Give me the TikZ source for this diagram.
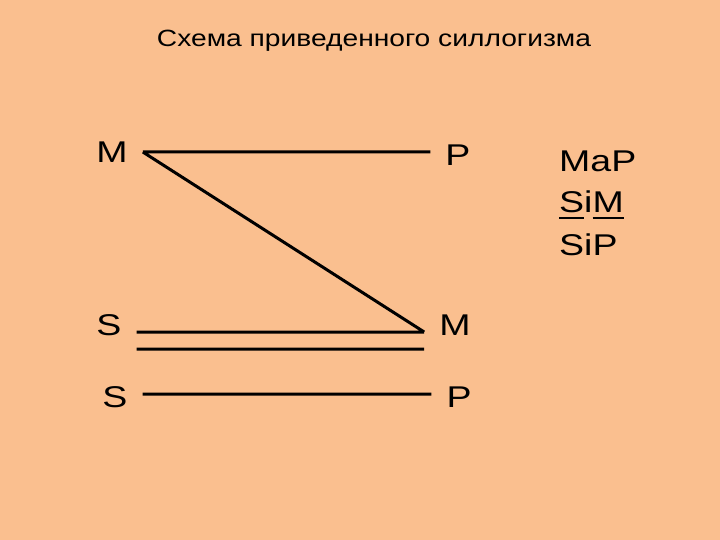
\documentclass[tikz,border=0pt]{standalone}
\usepackage{fontspec}
\setmainfont{Liberation Sans}[FakeStretch=1.25]
\newfontfamily\titlefont{Liberation Sans}[FakeStretch=1.2]
\usetikzlibrary{calc}
\definecolor{slide}{RGB}{250,191,143}
\newcommand{\term}[1]{\setbox0\hbox{#1}\rlap{\rule[-6pt]{\wd0}{2pt}}\box0}

\begin{document}
\begin{tikzpicture}[x=1pt,y=-1pt,
	letter/.style={inner xsep=15pt, inner ysep=0pt, font=\fontsize{30}{36}\selectfont},
	formula/.style={anchor=base west, inner sep=0pt, font=\fontsize{30}{36}\selectfont},
	bar/.style={line width=3pt}]
	\fill[slide] (0,0) rectangle (720,540);
	\node[anchor=base, font=\titlefont\fontsize{23.5}{28}\selectfont] (title) at (374,47) {Схема приведенного силлогизма};
	% premises and conclusion
	\node[letter] (M1) at (112,152) {M};
	\node[letter] (P1) at (458,155) {P};
	\node[letter] (S1) at (109,325) {S};
	\node[letter] (M2) at (455,325) {M};
	\node[letter] (S2) at (115,397) {S};
	\node[letter] (P2) at (459,397) {P};
	\draw[bar]
	(M1.east) -- (M1.east -| P1.west)
	(M1.east) -- ($(M2.west)+(0,7)$)
	($(S1.east)+(0,7)$) -- ($(M2.west)+(0,7)$)
	($(S1.east)+(0,24)$) -- ($(M2.west)+(0,24)$)
	($(S2.east)+(0,-3)$) -- ($(P2.west)+(0,-3)$);
	% formulas
	\node[formula] (maj) at (559,172) {MaP};
	\node[formula] (min) at (559,213) {\term{S}i\term{M}};
	\node[formula] (con) at (559,255) {SiP};
\end{tikzpicture}
\end{document}
